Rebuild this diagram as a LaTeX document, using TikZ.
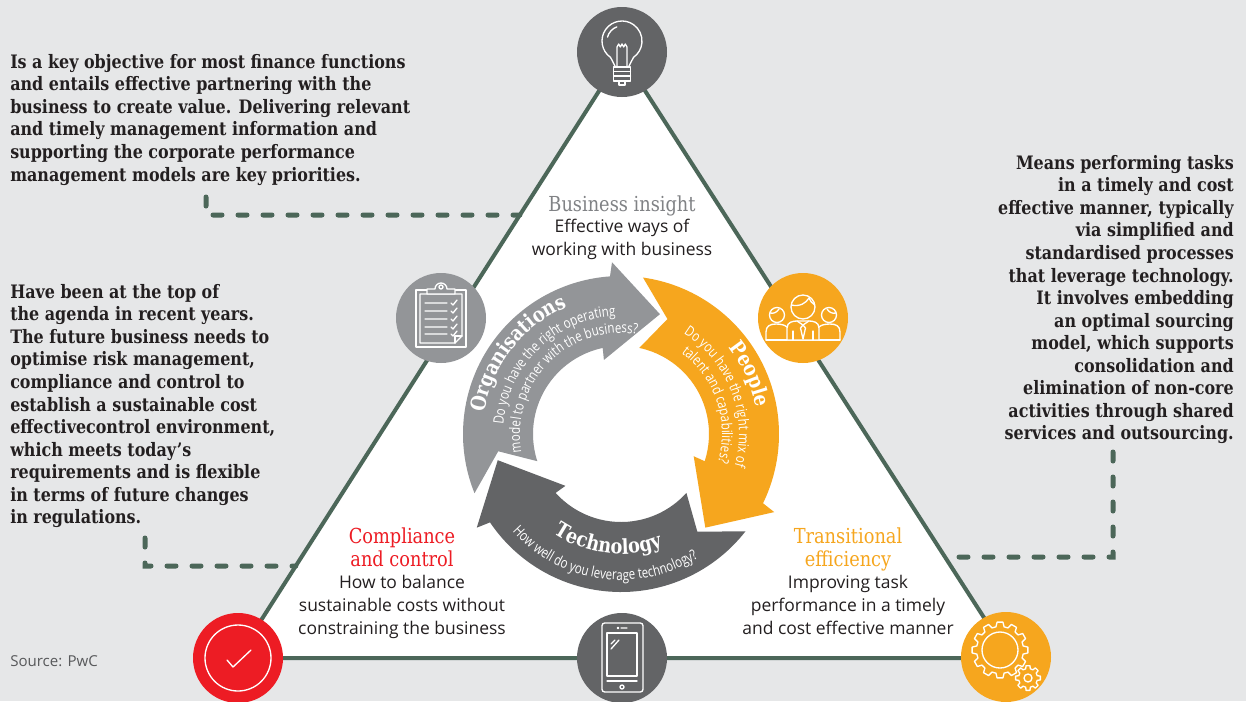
\documentclass[tikz,border=0pt]{standalone}
\usepackage{fontspec}
\newfontfamily\serifx[FakeStretch=0.86]{DejaVu Serif}
\newfontfamily\sansx{Open Sans}
\newfontfamily\condx[FakeStretch=0.8]{Open Sans}
\usepackage{tikz}
\usetikzlibrary{positioning}
\usetikzlibrary{decorations.text}
\definecolor{bggray}{RGB}{230,231,232}
\definecolor{rim}{RGB}{76,103,89}
\definecolor{icongray}{RGB}{99,100,102}
\definecolor{orggray}{RGB}{147,149,152}
\definecolor{pwcorange}{RGB}{246,166,30}
\definecolor{pwcred}{RGB}{237,28,36}
\definecolor{inkblack}{RGB}{35,31,32}
\definecolor{titlegray}{RGB}{128,130,133}
\definecolor{srcgray}{RGB}{88,89,91}
\tikzset{
  para/.style={font=\serifx\bfseries\fontsize{13.9}{16.9}\selectfont,text=inkblack,inner sep=0pt},
  title/.style={font=\serifx\fontsize{15.5}{16.6}\selectfont,anchor=base,inner sep=0pt,align=center},
  body/.style={font=\sansx\fontsize{13.1}{16.9}\selectfont,text=inkblack,anchor=base,inner sep=0pt,align=center},
  iconbg/.style={circle,minimum size=67.5pt,inner sep=0pt},
  iconline/.style={draw=white,line width=1pt,line join=round,line cap=round},
  link/.style={draw=rim,line width=3.75pt,dash pattern=on 6.75pt off 12pt,line cap=round},
  headtext/.style={decorate,decoration={text along path,text align=center,text color=white,text={|\serifx\bfseries\fontsize{15.5}{18}\selectfont|#1}}},
  subtext/.style={decorate,decoration={text along path,text align=center,text color=white,text={|\condx\fontsize{10.8}{13}\selectfont|#1}}}
}
\begin{document}
\begin{tikzpicture}[x=0.75pt,y=0.75pt]
\useasboundingbox (0,0) rectangle (1246,-701);
\fill[bggray] (0,0) rectangle (1246,-701);
\coordinate (apex) at (622,-55);
\coordinate (bl) at (237,-658);
\coordinate (br) at (1010,-658);
\draw[fill=white,draw=rim,line width=3pt,line join=round] (apex) -- (bl) -- (br) -- cycle;

\node[para,anchor=north west,align=left] (fin) at (10,-54) {Is a key objective for most finance functions\\and entails effective partnering with the\\business to create value. Delivering relevant\\and timely management information and\\supporting the corporate performance\\management models are key priorities.};
\node[para,anchor=north west,align=left] (risk) at (10,-284) {Have been at the top of\\the agenda in recent years.\\The future business needs to\\optimise risk management,\\compliance and control to\\establish a sustainable cost\\effectivecontrol environment,\\which meets today’s\\requirements and is flexible\\in terms of future changes\\in regulations.};
\node[para,anchor=north east,align=right] (eff) at (1234,-155) {Means performing tasks\\in a timely and cost\\effective manner, typically\\via simplified and\\standardised processes\\that leverage technology.\\It involves embedding\\an optimal sourcing\\model, which supports\\consolidation and\\elimination of non-core\\activities through shared\\services and outsourcing.};

\coordinate (d1s) at (206,-197);
\coordinate (d1c) at (206,-215);
\coordinate (d1h) at (700,-215);
\coordinate (d1e) at (intersection of d1c--d1h and apex--bl);
\draw[link] (d1s) -- (d1c) -- (d1e);
\coordinate (d2s) at (145,-538);
\coordinate (d2c) at (145,-566);
\coordinate (d2h) at (700,-566);
\coordinate (d2e) at (intersection of d2c--d2h and apex--bl);
\draw[link] (d2s) -- (d2c) -- (d2e);
\coordinate (d3s) at (1113,-452);
\coordinate (d3c) at (1113,-557);
\coordinate (d3h) at (700,-557);
\coordinate (d3e) at (intersection of d3c--d3h and apex--br);
\draw[link] (d3s) -- (d3c) -- (d3e);

\node[title,text=titlegray] (bi) at (622,-211) {Business insight};
\node[body] (bitxt) at (622,-255) {Effective ways of\\working with business};
\node[title,text=pwcred] (cc) at (402,-566) {Compliance\\and control};
\node[body] (cctxt) at (402,-634) {How to balance\\sustainable costs without\\constraining the business};
\node[title,text=pwcorange] (te) at (848,-566) {Transitional\\efficiency};
\node[body] (tetxt) at (848,-634) {Improving task\\performance in a timely\\and cost effective manner};
\node[font=\sansx\fontsize{11.3}{13}\selectfont,text=srcgray,anchor=west,inner sep=0pt] (src) at (10,-661) {Source: PwC};

\begin{scope}[shift={(621,-434)}]
\fill[orggray] (202:158) arc[start angle=202,end angle=94,radius=158] -- (93:172) -- (72:126) -- (103:76) -- (102:88) arc[start angle=102,end angle=198,radius=88] -- (188:124) -- cycle;
\fill[pwcorange] (82:158) arc[start angle=82,end angle=-26,radius=158] -- (-27:172) -- (-48:126) -- (-17:76) -- (-18:88) arc[start angle=-18,end angle=78,radius=88] -- (68:124) -- cycle;
\fill[icongray] (322:158) arc[start angle=322,end angle=214,radius=158] -- (213:172) -- (192:126) -- (223:76) -- (222:88) arc[start angle=222,end angle=318,radius=88] -- (308:124) -- cycle;
\path[headtext=Organisations] (205:138) arc[start angle=205,end angle=79,radius=138];
\path[subtext=Do you have the right operating] (214:118) arc[start angle=214,end angle=54,radius=118];
\path[subtext=model to partner with the business?] (215:101) arc[start angle=215,end angle=56,radius=101];
\path[headtext=People] (90:138) arc[start angle=90,end angle=-40,radius=138];
\path[subtext=Do you have the right mix of] (101:118) arc[start angle=101,end angle=-59,radius=118];
\path[subtext=talent and capabilities?] (98:101) arc[start angle=98,end angle=-61,radius=101];
\path[headtext=Technology] (200:120) arc[start angle=200,end angle=326,radius=120];
\path[subtext=How well do you leverage technology?] (190:146) arc[start angle=190,end angle=334,radius=146];
\end{scope}

\node[iconbg,fill=icongray] (bulb) at (622,-52) {};
\node[iconbg,fill=orggray] (board) at (441,-318) {};
\node[iconbg,fill=pwcorange] (team) at (803,-318) {};
\node[iconbg,fill=pwcred] (tick) at (238,-658) {};
\node[iconbg,fill=icongray] (phone) at (622,-658) {};
\node[iconbg,fill=pwcorange] (gear) at (1006,-657) {};

\begin{scope}[shift={(bulb)}]
\draw[iconline] (-7,-14) -- (-11.47,-5.38) arc[start angle=235,end angle=-55,radius=20] -- (7,-14);
\draw[iconline] (-14.5,14.9) arc[start angle=165,end angle=110,radius=15];
\draw[iconline] (-5,-14) -- (-5,5) -- (-3.3,8) -- (-1.7,5) -- (0,8) -- (1.7,5) -- (3.3,8) -- (5,5) -- (5,-14);
\draw[iconline] (-8.5,-15) rectangle (8.5,-29);
\draw[iconline] (-8.5,-19.5) -- (8.5,-19.5) (-8.5,-24) -- (8.5,-24);
\draw[iconline] (-3,-29) -- (-3,-33) -- (3,-33) -- (3,-29);
\end{scope}

\begin{scope}[shift={(board)}]
\draw[iconline] (-25,-29) rectangle (25,28);
\draw[iconline] (-21,24) -- (-21,-25) -- (14,-25) -- (21,-18) -- (21,24) -- cycle;
\draw[iconline] (14,-25) -- (14,-18) -- (21,-18);
\draw[iconline,fill=orggray] (-14,24) -- (-14,29) -- (-6,29) arc[start angle=180,end angle=0,radius=6] -- (14,29) -- (14,24) -- cycle;
\draw[iconline] (0,31) circle[radius=2];
\foreach \y in {15,7,-1,-9,-16}
  \draw[iconline] (-16,\y) -- (6,\y) (10,\y) -- (12,\y-2) -- (16,\y+3);
\end{scope}

\begin{scope}[shift={(team)}]
\draw[iconline] (-37,-22) -- (-37,-14) .. controls (-37,-8) and (-33,-6) .. (-27,-6) .. controls (-22,-6) and (-18,-7) .. (-16,-9);
\draw[iconline] (37,-22) -- (37,-14) .. controls (37,-8) and (33,-6) .. (27,-6) .. controls (22,-6) and (18,-7) .. (16,-9);
\draw[iconline] (-37,-22) -- (37,-22);
\draw[iconline] (-26,3) circle[radius=7.5] (26,3) circle[radius=7.5];
\draw[iconline] (-33,5) .. controls (-29,4) and (-26,6) .. (-24,9) (33,5) .. controls (29,4) and (26,6) .. (24,9);
\draw[iconline,fill=pwcorange] (-16,-22) -- (-16,-10) .. controls (-16,-4) and (-10,-3) .. (-6,-3) -- (6,-3) .. controls (10,-3) and (16,-4) .. (16,-10) -- (16,-22) -- cycle;
\draw[iconline,fill=pwcorange] (0,11) circle[radius=12];
\draw[iconline] (-11.8,13) .. controls (-3,11) and (3,15) .. (6,20) .. controls (7,17) and (9,15) .. (11.8,13);
\draw[iconline] (-6,-3) -- (0,-7) -- (6,-3) (0,-7) -- (-2.5,-10) -- (0,-21) -- (2.5,-10) -- cycle;
\draw[iconline] (-10,-13) -- (-10,-22) (10,-13) -- (10,-22);
\end{scope}

\begin{scope}[shift={(tick)}]
\draw[iconline] (0,0) circle[radius=33];
\draw[iconline] (-11,-2) -- (-5,-9) -- (13,8);
\end{scope}

\begin{scope}[shift={(phone)}]
\draw[iconline,rounded corners=2pt] (-20,-34) rectangle (21,35);
\draw[iconline] (-15,-18) rectangle (15,25);
\draw[iconline] (-15,-23) -- (15,-23);
\draw[iconline] (0,-29) circle[radius=2];
\draw[iconline] (-4,30) circle[radius=0.6] (-1,30) -- (5,30);
\draw[iconline] (-11,9) -- (-3,18) (-11,14) -- (-7,18);
\end{scope}

\begin{scope}[shift={(gear)}]
\begin{scope}[shift={(-6,7)}]
\draw[iconline] (-10:23.5) \foreach \a in {0,30,...,330} { -- ({\a-10}:23.5) -- ({\a-6}:28) -- ({\a+6}:28) -- ({\a+10}:23.5) } -- cycle;
\draw[iconline] (0,0) circle[radius=18];
\end{scope}
\begin{scope}[shift={(22,-21)}]
\draw[iconline] (-14:9.5) \foreach \a in {0,45,...,315} { -- ({\a-14}:9.5) -- ({\a-9}:12.5) -- ({\a+9}:12.5) -- ({\a+14}:9.5) } -- cycle;
\draw[iconline] (0,0) circle[radius=4];
\end{scope}
\end{scope}

\end{tikzpicture}
\end{document}
